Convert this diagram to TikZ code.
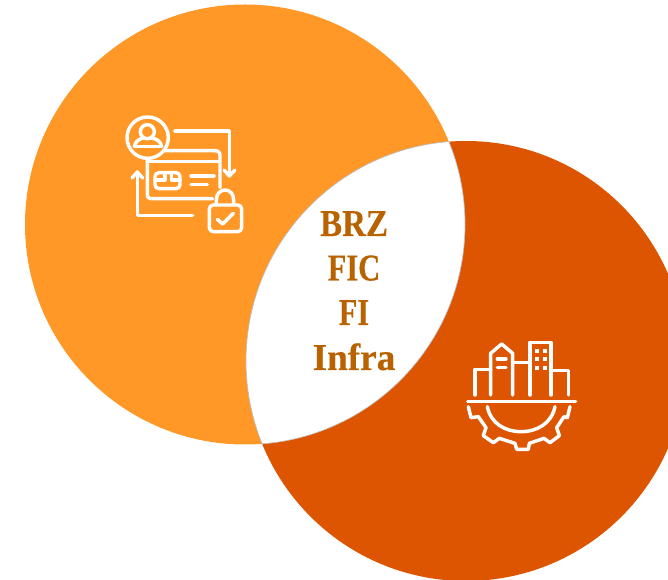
\documentclass[tikz,border=0pt]{standalone}
\usepackage{fontspec}
\setmainfont{Liberation Serif}
\newfontfamily\lensfontA[FakeStretch=0.87,FakeBold=0.25]{Liberation Serif}
\newfontfamily\lensfontB[FakeStretch=0.8,FakeBold=0.25]{Liberation Serif}
\newfontfamily\lensfontC[FakeStretch=0.98,FakeBold=0.25]{Liberation Serif}
\definecolor{lightorange}{HTML}{FF9826}
\definecolor{darkorange}{HTML}{DD5500}
\definecolor{lenstext}{HTML}{B86200}
\tikzset{
  disc/.style={circle,inner sep=0pt,minimum size=330pt},
  lenslabel/.style={text=lenstext,inner sep=0pt,anchor=base},
  iconline/.style={draw=white,line width=2.6pt,line cap=round,line join=round},
  zoomicon/.style={x=0.25pt,y=-0.25pt}
}
\newcommand{\lenssize}{\bfseries\fontsize{28.5}{28.5}\selectfont}
\begin{document}
\begin{tikzpicture}[x=0.75pt,y=-0.75pt]
\useasboundingbox (0,0) rectangle (668,580);
\begin{scope}
\clip (0,0) rectangle (668,580);
\node[disc,fill=lightorange] (left) at (245,224.5) {};
\node[disc,fill=darkorange] (right) at (466,361) {};
\begin{scope}
\clip (245,224.5) circle (220);
\fill[white] (466,361) circle (220);
\end{scope}
\begin{scope}
\clip (245,224.5) circle (220);
\draw[black!25,line width=0.5pt] (466,361) circle (220);
\end{scope}
\begin{scope}
\clip (466,361) circle (220);
\draw[black!25,line width=0.5pt] (245,224.5) circle (220);
\end{scope}
\end{scope}
\node[lenslabel] (brz) at (354,236) {\lensfontA\lenssize BRZ};
\node[lenslabel] (fic) at (354,280.5) {\lensfontB\lenssize FIC};
\node[lenslabel] (fi) at (354,325) {\lensfontB\lenssize FI};
\node[lenslabel] (infra) at (354,370) {\lensfontC\lenssize Infra};
% payment icon
\begin{scope}[shift={(110,100)},zoomicon]
\draw[iconline] (113,113) circle (62);
\draw[iconline] (112,95) circle (21);
\draw[iconline] (73,138) .. controls (78,120) and (92,116) .. (100,114);
\draw[iconline] (124,114) .. controls (135,116) and (150,120) .. (155,138);
\draw[iconline] (73,139) -- (155,139);
\draw[iconline] (112,178) -- (112,282) .. controls (112,292) and (116,296) .. (126,296) -- (308,296);
\draw[iconline] (166,152) -- (314,152) .. controls (325,152) and (330,157) .. (330,168) -- (330,262);
\draw[iconline] (112,184) -- (330,184);
\draw[iconline,rounded corners=3pt] (135,218) rectangle (210,266);
\draw[iconline] (135,240) -- (165,240) (165,218) -- (165,240) (185,218) -- (185,240) (185,240) -- (210,240);
\draw[iconline] (243,228) -- (312,228) (243,253) -- (292,253);
\draw[iconline] (195,93) -- (358,93) -- (358,226);
\draw[iconline] (342,210) -- (358,228) -- (375,210);
\draw[iconline] (248,347) -- (82,347) -- (82,218);
\draw[iconline] (66,234) -- (82,216) -- (98,234);
\draw[iconline,rounded corners=3pt] (298,315) rectangle (395,395);
\draw[iconline] (319,315) -- (319,300) .. controls (319,280) and (332,270) .. (345,270) .. controls (358,270) and (371,280) .. (371,300) -- (371,315);
\draw[iconline] (322,358) -- (338,372) -- (370,340);
\end{scope}
% industry icon
\begin{scope}[shift={(450,330)},zoomicon]
\draw[iconline] (53,214) -- (377,214);
\draw[iconline] (75,195) -- (75,118) -- (122,118);
\draw[iconline] (122,195) -- (122,70) -- (155,42) -- (188,70) -- (188,195);
\draw[iconline] (142,87) -- (168,87) (142,112) -- (168,112);
\draw[iconline] (188,98) -- (240,98);
\draw[iconline] (240,195) -- (240,37) -- (303,37) -- (303,195);
\draw[iconline] (303,122) -- (355,122) -- (355,195);
\foreach \wx in {262,285}{\foreach \wy in {63,88,115}{
  \fill[white] (\wx-6,\wy-6) rectangle (\wx+6,\wy+6);}}
\end{scope}
\begin{scope}[shift={(460,395)},zoomicon]
\draw[iconline] (25,35) -- (33,68) -- (55,65) -- (78,98) -- (70,122) -- (100,143) -- (118,130) -- (165,145) -- (170,163) -- (205,163) -- (208,145) -- (252,130) -- (270,143) -- (298,122) -- (290,98) -- (312,65) -- (322,68) -- (330,35);
\draw[iconline] (82,35) .. controls (92,85) and (135,110) .. (183,110) .. controls (231,110) and (275,85) .. (285,35);
\end{scope}
\end{tikzpicture}
\end{document}
